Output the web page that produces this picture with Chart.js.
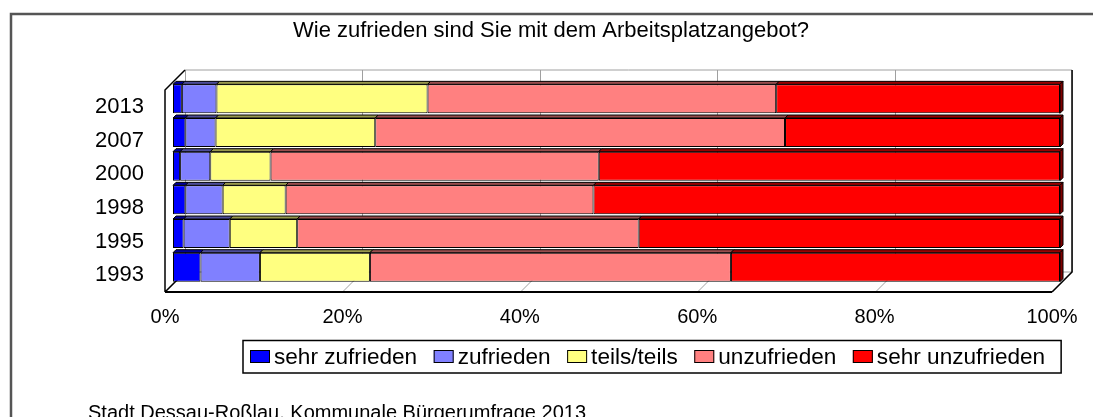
<!DOCTYPE html>
<html>
<head>
<meta charset="utf-8">
<script src="https://cdn.jsdelivr.net/npm/chart.js@4.4.1/dist/chart.umd.min.js"></script>
<style>
  html, body { margin: 0; padding: 0; background: #fff; }
</style>
</head>
<body>
<canvas id="c" width="1093" height="417"></canvas>
<script>
const years = ['2013', '2007', '2000', '1998', '1995', '1993'];
const sehrZufrieden = [1.0, 1.4, 0.8, 1.4, 1.2, 3.1];
const zufrieden = [3.9, 3.4, 3.4, 4.2, 5.2, 6.7];
const teilsTeils = [23.8, 18.0, 6.8, 7.1, 7.6, 12.4];
const unzufrieden = [39.3, 46.2, 37.0, 34.7, 38.5, 40.7];
const sehrUnzufrieden = [32.0, 31.0, 52.0, 52.6, 47.5, 37.1];
const xTicks = [0, 20, 40, 60, 80, 100];

const FONT = '"Liberation Sans", Arial, sans-serif';
const DEPTH = 20;     // wall depth
const BAR_OFF = 8;    // bars sit this far into the box
const BAR_D = 3;      // bar thickness in depth

function shade(hex, f) {
  const n = parseInt(hex.slice(1), 16);
  const r = Math.round(((n >> 16) & 255) * f), g = Math.round(((n >> 8) & 255) * f), b = Math.round((n & 255) * f);
  return `rgb(${r},${g},${b})`;
}

const box3d = {
  id: 'box3d',
  beforeDatasetsDraw(chart) {
    const { ctx, chartArea: a, scales: { x } } = chart;
    const d = DEPTH;
    ctx.save();
    // back wall
    ctx.fillStyle = '#fff';
    ctx.fillRect(a.left + d, a.top - d, a.right - a.left, a.bottom - a.top);
    ctx.lineWidth = 1;
    ctx.strokeStyle = '#a0a0a0';
    xTicks.forEach(v => {
      const px = Math.round(x.getPixelForValue(v)) + 0.5;
      ctx.beginPath();
      ctx.moveTo(px + d, a.top - d); ctx.lineTo(px + d, a.bottom - d);
      ctx.moveTo(px, a.bottom); ctx.lineTo(px + d, a.bottom - d);
      ctx.stroke();
    });
    ctx.beginPath();
    ctx.moveTo(a.left + d, a.top - d); ctx.lineTo(a.right + d, a.top - d);
    ctx.moveTo(a.left + d, a.bottom - d); ctx.lineTo(a.right + d, a.bottom - d);
    ctx.stroke();
    // outline
    ctx.strokeStyle = '#000';
    ctx.lineWidth = 1.5;
    ctx.beginPath();
    ctx.moveTo(a.left + d, a.top - d); ctx.lineTo(a.left, a.top); ctx.lineTo(a.left, a.bottom);
    ctx.moveTo(a.right, a.bottom); ctx.lineTo(a.right + d, a.bottom - d); ctx.lineTo(a.right + d, a.top - d);
    ctx.moveTo(a.left, a.bottom); ctx.lineTo(a.left + d, a.bottom - d);
    ctx.stroke();
    ctx.lineWidth = 2;
    ctx.beginPath();
    ctx.moveTo(a.left, a.bottom); ctx.lineTo(a.right, a.bottom);
    ctx.stroke();
    ctx.restore();
    ctx.save();
    ctx.translate(BAR_OFF, -BAR_OFF);
  },
  afterDatasetsDraw(chart) {
    const { ctx } = chart;
    const t = BAR_D;
    const last = chart.data.datasets.length - 1;
    chart.data.datasets.forEach((ds, i) => {
      chart.getDatasetMeta(i).data.forEach(el => {
        const { x, y, base, height } = el.getProps(['x', 'y', 'base', 'height'], true);
        const top = y - height / 2, bot = y + height / 2;
        ctx.lineWidth = 1;
        ctx.strokeStyle = '#000';
        ctx.fillStyle = shade(ds.backgroundColor, 0.6);
        ctx.beginPath();
        ctx.moveTo(base, top); ctx.lineTo(x, top); ctx.lineTo(x + t, top - t); ctx.lineTo(base + t, top - t);
        ctx.closePath(); ctx.fill(); ctx.stroke();
        if (i === last) {
          ctx.fillStyle = shade(ds.backgroundColor, 0.5);
          ctx.beginPath();
          ctx.moveTo(x, top); ctx.lineTo(x + t, top - t); ctx.lineTo(x + t, bot - t); ctx.lineTo(x, bot);
          ctx.closePath(); ctx.fill(); ctx.stroke();
        }
      });
    });
    ctx.restore();
  }
};

const decor = {
  id: 'decor',
  afterDraw(chart) {
    const { ctx } = chart;
    ctx.save();
    // outer frame
    ctx.strokeStyle = '#555';
    ctx.lineWidth = 2.5;
    ctx.beginPath();
    ctx.moveTo(11, 430); ctx.lineTo(11, 14); ctx.lineTo(1100, 14);
    ctx.stroke();
    ctx.fillStyle = '#000';
    ctx.textBaseline = 'alphabetic';
    ctx.textAlign = 'center';
    ctx.font = `22px ${FONT}`;
    ctx.fillText('Wie zufrieden sind Sie mit dem Arbeitsplatzangebot?', 551, 36.5);
    ctx.textAlign = 'left';
    ctx.font = `20px ${FONT}`;
    ctx.fillText('Stadt Dessau-Roßlau, Kommunale Bürgerumfrage 2013', 88, 418.5);

    // legend
    ctx.font = `22.6px ${FONT}`;
    const items = chart.data.datasets;
    let xx = 250;
    const boxL = xx - 7;
    items.forEach((ds, i) => {
      ctx.fillStyle = ds.backgroundColor;
      ctx.fillRect(xx, 350, 20, 13);
      ctx.lineWidth = 1;
      ctx.strokeStyle = '#000';
      ctx.strokeRect(xx + 0.5, 350.5, 19, 12);
      ctx.fillStyle = '#000';
      ctx.fillText(ds.label, xx + 24, 364);
      xx += 24 + ctx.measureText(ds.label).width + (i < items.length - 1 ? 16.5 : 0);
    });
    ctx.lineWidth = 1.5;
    ctx.strokeStyle = '#000';
    ctx.strokeRect(boxL, 340.5, xx + 16 - boxL, 32.5);
    ctx.restore();
  }
};

new Chart(document.getElementById('c'), {
  type: 'bar',
  data: {
    labels: years,
    datasets: [
      { label: 'sehr zufrieden', data: sehrZufrieden, backgroundColor: '#0000ff' },
      { label: 'zufrieden', data: zufrieden, backgroundColor: '#8080ff' },
      { label: 'teils/teils', data: teilsTeils, backgroundColor: '#ffff80' },
      { label: 'unzufrieden', data: unzufrieden, backgroundColor: '#ff8080' },
      { label: 'sehr unzufrieden', data: sehrUnzufrieden, backgroundColor: '#ff0000' },
    ].map(d => ({ ...d, borderColor: '#000', borderWidth: 1, borderSkipped: false, barPercentage: 0.86, categoryPercentage: 1 })),
  },
  options: {
    indexAxis: 'y',
    responsive: false,
    animation: false,
    layout: { padding: { left: 0, top: 90, right: 41, bottom: 0 } },
    plugins: { legend: { display: false }, title: { display: false }, tooltip: { enabled: false } },
    scales: {
      x: {
        stacked: true, min: 0, max: 100,
        afterFit: s => { s.height = 125; },
        afterBuildTicks: s => { s.ticks = xTicks.map(v => ({ value: v })); },
        grid: { display: false, drawTicks: false }, border: { display: false },
        ticks: { padding: 13, color: '#000', font: { family: FONT, size: 20 }, maxRotation: 0, callback: v => v + '%' },
      },
      y: {
        stacked: true,
        afterFit: s => { s.width = 165; },
        grid: { display: false, drawTicks: false }, border: { display: false },
        ticks: { padding: 21, color: '#000', font: { family: FONT, size: 22 } },
      },
    },
  },
  plugins: [box3d, decor],
});
</script>
</body>
</html>
